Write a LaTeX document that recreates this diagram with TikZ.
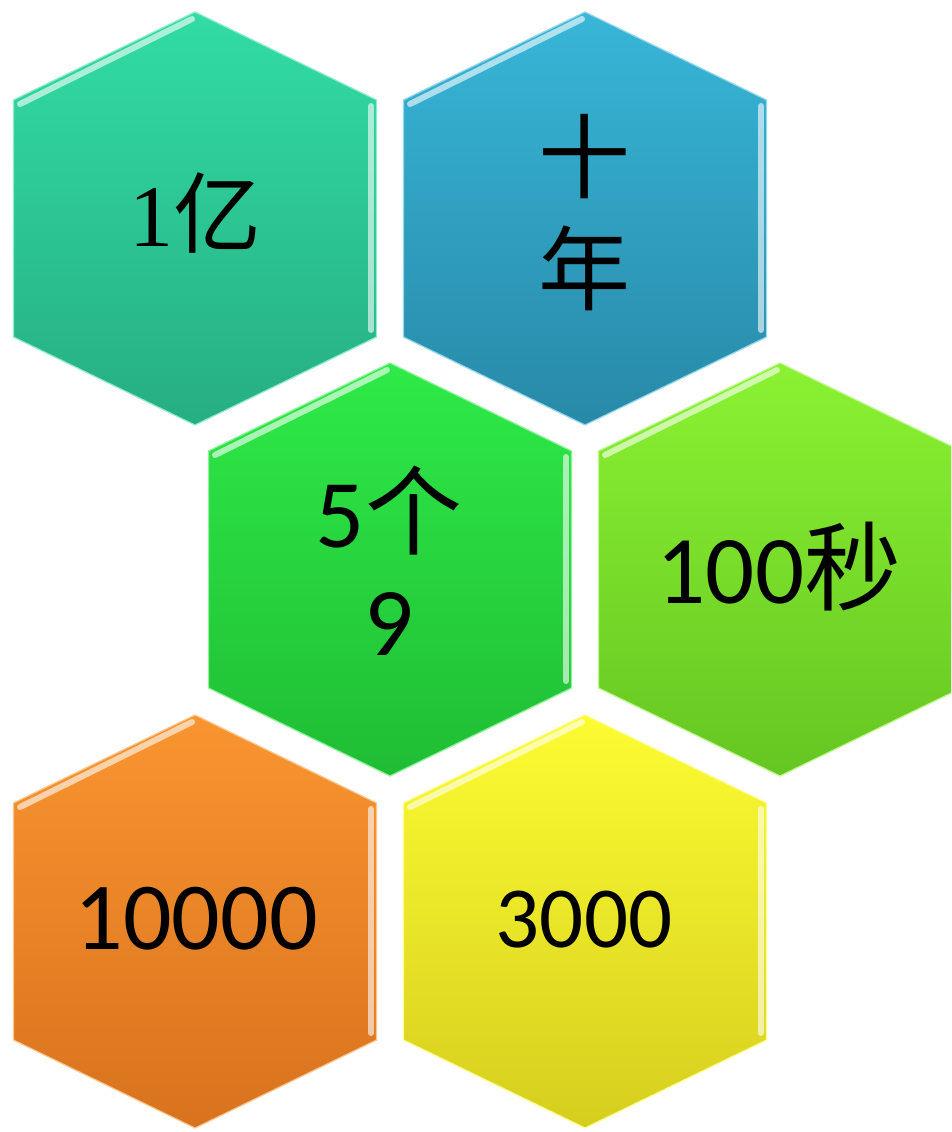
\documentclass[tikz,border=0pt]{standalone}
\usepackage{fontspec}
\setmainfont{Carlito}
\newfontfamily\cjk{Noto Sans CJK SC}
\newfontfamily\serifnum{Liberation Serif}
\usepackage{xcolor}
\definecolor{tealtop}{RGB}{50, 220, 164}
\definecolor{tealbot}{RGB}{38, 174, 130}
\definecolor{bluetop}{RGB}{56, 182, 216}
\definecolor{bluebot}{RGB}{40, 137, 168}
\definecolor{greentop}{RGB}{46, 234, 72}
\definecolor{greenbot}{RGB}{32, 189, 52}
\definecolor{limetop}{RGB}{138, 242, 50}
\definecolor{limebot}{RGB}{102, 198, 34}
\definecolor{orangetop}{RGB}{249, 149, 48}
\definecolor{orangebot}{RGB}{216, 114, 30}
\definecolor{yellowtop}{RGB}{252, 252, 50}
\definecolor{yellowbot}{RGB}{214, 206, 30}

\begin{document}
\begin{tikzpicture}[
  x=1pt, y=-1pt,
  hexlabel/.style = {align=center, text=black, inner sep=0pt},
  rim/.style      = {line width=1.2pt},
  bevel/.style    = {white, line width=6pt, opacity=0.6, line cap=round}
]
\useasboundingbox (0,0) rectangle (951,1132);
\clip (0,0) rectangle (951,1132);

\foreach \cx/\cy/\ctop/\cbot in {195/218/tealtop/tealbot, 585/218/bluetop/bluebot,
                                 390/569/greentop/greenbot, 780/569/limetop/limebot,
                                 195/921/orangetop/orangebot, 585/921/yellowtop/yellowbot}{
  \shade[top color=\ctop, bottom color=\cbot, draw=\ctop!55!white, rim]
    (\cx,\cy-206) -- ++(181.5,88) -- ++(0,237) -- ++(-181.5,88)
    -- ++(-181.5,-88) -- ++(0,-237) -- cycle;
  \draw[bevel] (\cx-175,\cy-114) -- (\cx-3,\cy-199);
  \draw[bevel] (\cx+176,\cy-112) -- (\cx+176,\cy+112);
}

\node[hexlabel, font=\fontsize{88}{100}\selectfont] (yi) at (195,213)
  {{\serifnum 1}{\cjk 亿}};
\node[hexlabel, font=\cjk\fontsize{92}{112}\selectfont] (shinian) at (584,213)
  {十\\年};
\node[hexlabel, font=\fontsize{97}{108}\selectfont] (wuge) at (389,561)
  {5{\cjk 个}\\9};
\node[hexlabel, font=\fontsize{97}{110}\selectfont] (baimiao) at (779,567)
  {100{\cjk 秒}};
\node[hexlabel, font=\fontsize{96}{110}\selectfont] (wanci) at (196,919)
  {10000};
\node[hexlabel, font=\fontsize{87}{100}\selectfont] (sanqian) at (584,920)
  {3000};
\end{tikzpicture}
\end{document}
